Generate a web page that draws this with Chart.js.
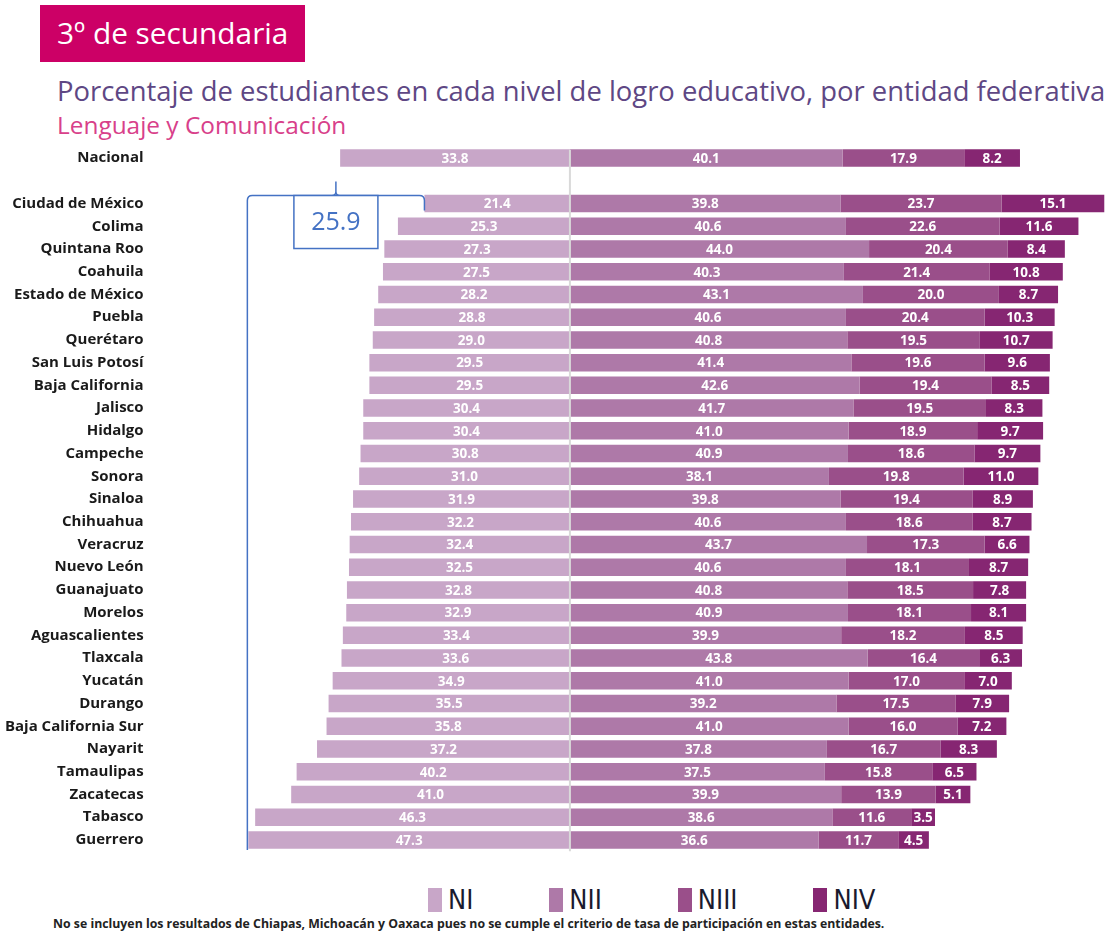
<!DOCTYPE html>
<html lang="es">
<head>
<meta charset="utf-8">
<title>3º de secundaria - Lenguaje y Comunicación</title>
<script src="https://cdn.jsdelivr.net/npm/chart.js@4.4.1/dist/chart.umd.min.js"></script>
<style>
  html, body { margin: 0; padding: 0; background: #fff; }
  body { width: 1109px; height: 934px; position: relative; overflow: hidden; font-family: "Open Sans", sans-serif; }
  .grade { position: absolute; left: 40px; top: 5px; width: 265px; height: 57px; background: #cc0066; color: #fff;
           font-size: 29.8px; line-height: 56px; padding-left: 17px; box-sizing: border-box; white-space: nowrap; }
  .title { position: absolute; left: 57px; top: 72px; font-size: 27.4px; color: #5e4784; white-space: nowrap; }
  .subtitle { position: absolute; left: 57px; top: 108px; font-size: 24.4px; color: #d8408a; white-space: nowrap; }
  #chartWrap { position: absolute; left: 0; top: 140px; width: 1109px; height: 720px; }
  .legend { position: absolute; left: 428px; top: 884px; display: flex; gap: 76px; }
  .legend span { display: flex; align-items: center; gap: 6px; font-family: "Liberation Sans Narrow", "DejaVu Sans Condensed", sans-serif;
                 font-size: 27px; color: #1a1a2e; line-height: 32px; }
  .legend i { display: inline-block; width: 14px; height: 24px; }
  .note { position: absolute; left: 53px; top: 915px; font-size: 12.3px; font-weight: 700; color: #222; white-space: nowrap; }
</style>
</head>
<body>
<div class="grade">3º de secundaria</div>
<div class="title">Porcentaje de estudiantes en cada nivel de logro educativo, por entidad federativa</div>
<div class="subtitle">Lenguaje y Comunicación</div>
<div id="chartWrap"><canvas id="chart" width="1109" height="720"></canvas></div>
<div class="legend" id="legend"></div>
<div class="note">No se incluyen los resultados de Chiapas, Michoacán y Oaxaca pues no se cumple el criterio de tasa de participación en estas entidades.</div>

<script>
const entities = [
  "Nacional", "",
  "Ciudad de México", "Colima", "Quintana Roo", "Coahuila", "Estado de México",
  "Puebla", "Querétaro", "San Luis Potosí", "Baja California", "Jalisco",
  "Hidalgo", "Campeche", "Sonora", "Sinaloa", "Chihuahua", "Veracruz",
  "Nuevo León", "Guanajuato", "Morelos", "Aguascalientes", "Tlaxcala",
  "Yucatán", "Durango", "Baja California Sur", "Nayarit", "Tamaulipas",
  "Zacatecas", "Tabasco", "Guerrero"
];

const nivelI = [33.8, null, 21.4, 25.3, 27.3, 27.5, 28.2, 28.8, 29.0, 29.5, 29.5, 30.4,
  30.4, 30.8, 31.0, 31.9, 32.2, 32.4, 32.5, 32.8, 32.9, 33.4, 33.6, 34.9, 35.5, 35.8,
  37.2, 40.2, 41.0, 46.3, 47.3];
const nivelII = [40.1, null, 39.8, 40.6, 44.0, 40.3, 43.1, 40.6, 40.8, 41.4, 42.6, 41.7,
  41.0, 40.9, 38.1, 39.8, 40.6, 43.7, 40.6, 40.8, 40.9, 39.9, 43.8, 41.0, 39.2, 41.0,
  37.8, 37.5, 39.9, 38.6, 36.6];
const nivelIII = [17.9, null, 23.7, 22.6, 20.4, 21.4, 20.0, 20.4, 19.5, 19.6, 19.4, 19.5,
  18.9, 18.6, 19.8, 19.4, 18.6, 17.3, 18.1, 18.5, 18.1, 18.2, 16.4, 17.0, 17.5, 16.0,
  16.7, 15.8, 13.9, 11.6, 11.7];
const nivelIV = [8.2, null, 15.1, 11.6, 8.4, 10.8, 8.7, 10.3, 10.7, 9.6, 8.5, 8.3,
  9.7, 9.7, 11.0, 8.9, 8.7, 6.6, 8.7, 7.8, 8.1, 8.5, 6.3, 7.0, 7.9, 7.2,
  8.3, 6.5, 5.1, 3.5, 4.5];

const seriesNames = ["NI", "NII", "NIII", "NIV"];
const seriesColors = ["#c8a6c8", "#ae79a8", "#9a4f8a", "#862672"];
const bracketColor = "#4472c4";

// NI goes to the left of zero, the other levels to the right
const seriesData = [
  nivelI.map(v => (v == null ? null : -v)),
  nivelII, nivelIII, nivelIV
];

// white value labels in the middle of every segment
const valueLabels = {
  id: "valueLabels",
  afterDatasetsDraw(chart) {
    const ctx = chart.ctx;
    ctx.save();
    ctx.font = "bold 13.5px 'Open Sans', sans-serif";
    ctx.fillStyle = "#ffffff";
    ctx.textAlign = "center";
    ctx.textBaseline = "middle";
    chart.data.datasets.forEach((ds, di) => {
      chart.getDatasetMeta(di).data.forEach((bar, i) => {
        const v = ds.data[i];
        if (v == null) return;
        ctx.fillText(Math.abs(v).toFixed(1), (bar.x + bar.base) / 2, bar.y + 1);
      });
    });
    ctx.restore();
  }
};

// light vertical line at zero
const zeroLine = {
  id: "zeroLine",
  afterDatasetsDraw(chart) {
    const { ctx, chartArea, scales } = chart;
    const x0 = scales.x.getPixelForValue(0);
    ctx.save();
    ctx.strokeStyle = "#d9d9d9";
    ctx.lineWidth = 2;
    ctx.beginPath();
    ctx.moveTo(x0, chartArea.top + 3);
    ctx.lineTo(x0, chartArea.bottom);
    ctx.stroke();
    ctx.restore();
  }
};

// bracket showing the spread of NI between states
const spreadBracket = {
  id: "spreadBracket",
  afterDatasetsDraw(chart) {
    const { ctx, scales: { x, y } } = chart;
    const states = nivelI.slice(2);
    const hi = Math.max(...states), lo = Math.min(...states);
    const xL = x.getPixelForValue(-hi) - 1;
    const xR = x.getPixelForValue(-lo);
    const xm = (xL + xR) / 2;
    const yTop = y.getPixelForValue(2) - 8;
    const yBottom = y.getPixelForValue(entities.length - 1) + 10;

    ctx.save();
    ctx.strokeStyle = bracketColor;
    ctx.lineWidth = 1.5;
    ctx.beginPath();
    ctx.moveTo(xL, yBottom);
    ctx.lineTo(xL, yTop + 5);
    ctx.quadraticCurveTo(xL, yTop, xL + 5, yTop);
    ctx.lineTo(xm - 4, yTop);
    ctx.quadraticCurveTo(xm, yTop, xm, yTop - 4);
    ctx.lineTo(xm, yTop - 14);
    ctx.moveTo(xm, yTop - 4);
    ctx.quadraticCurveTo(xm, yTop, xm + 4, yTop);
    ctx.lineTo(xR - 5, yTop);
    ctx.quadraticCurveTo(xR, yTop, xR, yTop + 5);
    ctx.lineTo(xR, yTop + 15);
    ctx.stroke();

    ctx.fillStyle = "#ffffff";
    ctx.fillRect(xm - 42, yTop, 84, 53);
    ctx.strokeRect(xm - 42, yTop, 84, 53);

    ctx.fillStyle = bracketColor;
    ctx.font = "25px 'Open Sans', sans-serif";
    ctx.textAlign = "center";
    ctx.textBaseline = "middle";
    ctx.fillText((hi - lo).toFixed(1), xm, yTop + 27);
    ctx.restore();
  }
};

new Chart(document.getElementById("chart"), {
  type: "bar",
  data: {
    labels: entities,
    datasets: seriesNames.map((name, i) => ({
      label: name,
      data: seriesData[i],
      backgroundColor: seriesColors[i],
      borderWidth: 0,
      barPercentage: 0.77,
      categoryPercentage: 1
    }))
  },
  options: {
    indexAxis: "y",
    responsive: false,
    animation: false,
    layout: { padding: { top: 6.7, bottom: 8.7, right: 2, left: 0 } },
    plugins: {
      legend: { display: false },
      tooltip: { enabled: false }
    },
    scales: {
      x: { type: "linear", stacked: true, min: -48, max: 79, display: false },
      y: {
        stacked: true,
        grid: { display: false, drawTicks: false },
        border: { display: false },
        ticks: {
          autoSkip: false,
          padding: 100,
          color: "#1a1a1a",
          font: { family: "'Open Sans', sans-serif", size: 15, weight: "bold" }
        },
        afterFit(scale) {
          // fixed label column; the tick padding is only meant horizontally
          scale.width = 243.6;
          scale.paddingTop = 0;
          scale.paddingBottom = 0;
        }
      }
    }
  },
  plugins: [zeroLine, valueLabels, spreadBracket]
});

// legend
const legend = document.getElementById("legend");
seriesNames.forEach((name, i) => {
  const item = document.createElement("span");
  const box = document.createElement("i");
  box.style.background = seriesColors[i];
  item.appendChild(box);
  item.appendChild(document.createTextNode(name));
  legend.appendChild(item);
});
</script>
</body>
</html>
